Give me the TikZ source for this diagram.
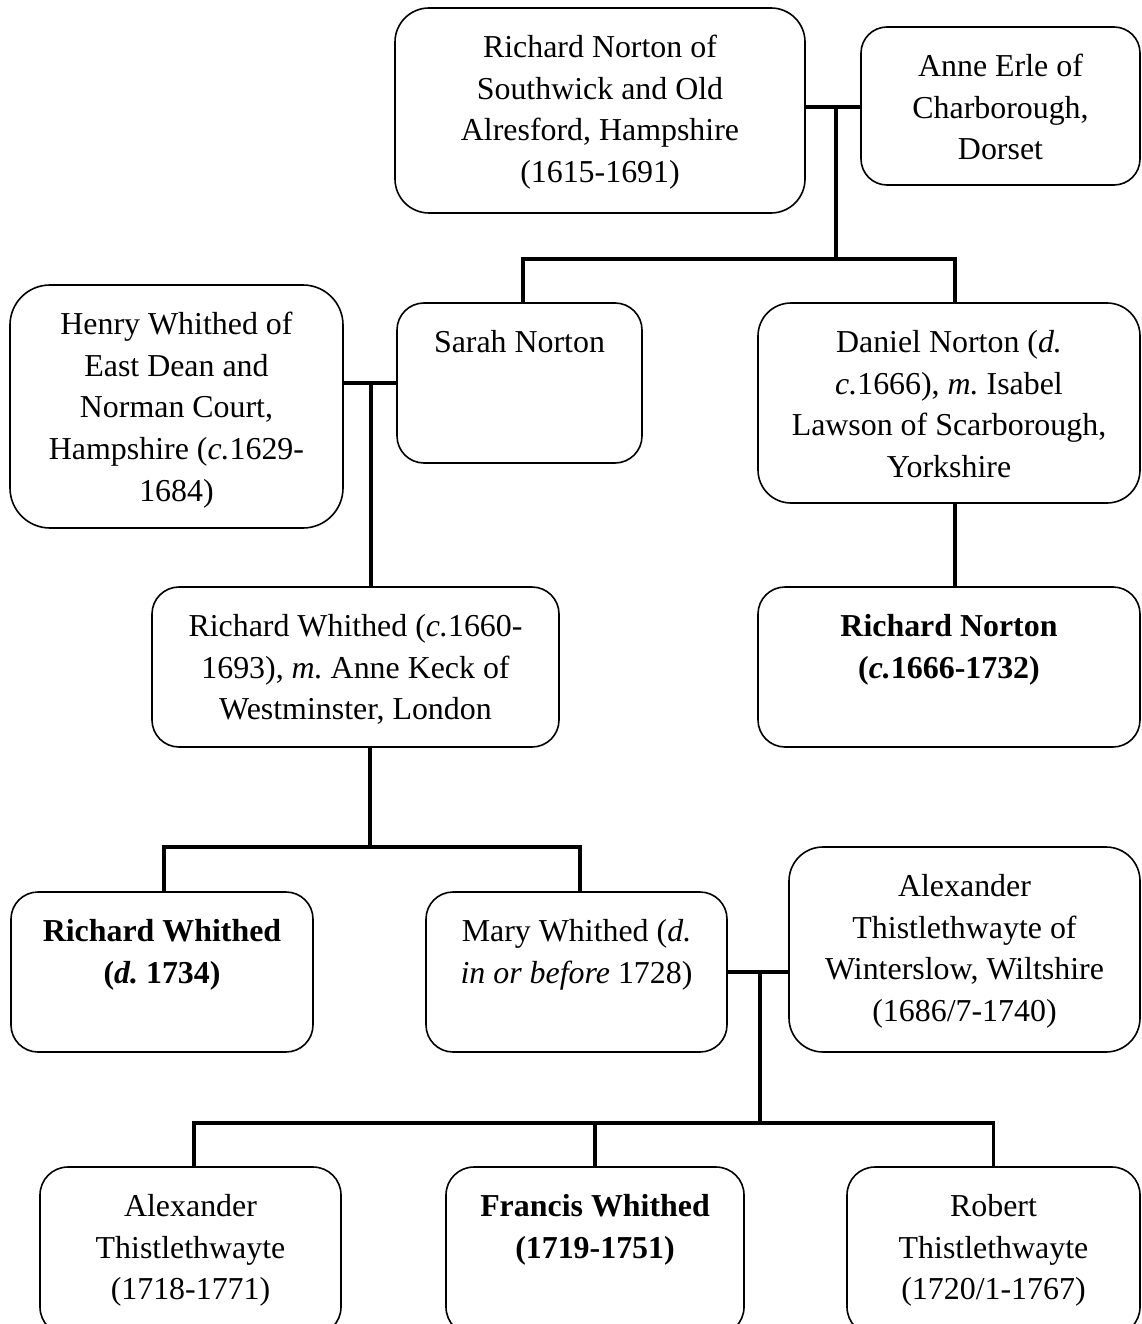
\documentclass[tikz,border=0pt]{standalone}
\usepackage{fontspec}
\setmainfont{Liberation Serif}
\frenchspacing
\tikzset{
 pbox/.style={draw, line width=1.6pt, inner sep=0pt, fill=white},
 ptxt/.style={align=center, inner sep=0pt, anchor=north, font=\fontsize{31.9}{41.7}\selectfont\frenchspacing},
 conn/.style={line width=3.3pt},
 marr/.style={line width=3.8pt},
}
% name, x1, x2, y1, y2, radius, text
\newcommand\pb[7]{%
 \node[pbox, minimum width={(#3-#2)*1pt}, minimum height={(#5-#4)*1pt}, rounded corners=#6pt] (#1) at ({(#2+#3)/2},{(#4+#5)/2}) {};
 \node[ptxt] (#1t) at ([yshift=-20.8pt]#1.north) {\strut #7};
}
\begin{document}
\begin{tikzpicture}[x=1pt,y=-1pt]
\useasboundingbox (0,0) rectangle (1142,1324);
\clip (0,0) rectangle (1142,1324);
\fill[white] (0,0) rectangle (1142,1324);

\pb{A}{395}{805}{8}{213}{34}{Richard Norton of\\Southwick and Old\\Alresford, Hampshire\\(1615-1691)}
\pb{B}{861}{1140}{27}{185}{26}{Anne Erle of\\Charborough,\\Dorset}
\pb{H}{10}{343}{285}{528}{40}{Henry Whithed of\\East Dean and\\Norman Court,\\Hampshire (\textit{c.}1629-\\1684)}
\pb{S}{397}{642}{303}{463}{27}{Sarah Norton}
\pb{D}{758}{1140}{303}{503}{33}{Daniel Norton (\textit{d.}\\\textit{c.}1666), \textit{m.} Isabel\\Lawson of Scarborough,\\Yorkshire}
\pb{RN}{758}{1140}{587}{747}{27}{\textbf{Richard Norton}\\\textbf{(\textit{c.}1666-1732)}}
\pb{RW}{152}{559}{587}{747}{27}{Richard Whithed (\textit{c.}1660-\\1693), \textit{m.} Anne Keck of\\Westminster, London}
\pb{RWb}{11}{313}{892}{1052}{27}{\textbf{Richard Whithed}\\\textbf{(\textit{d.} 1734)}}
\pb{M}{426}{727}{892}{1052}{27}{Mary Whithed (\textit{d.}\\\textit{in or before} 1728)}
\pb{AT}{789}{1140}{847}{1052}{34}{Alexander\\Thistlethwayte of\\Winterslow, Wiltshire\\(1686/7-1740)}
\pb{ATb}{40}{341}{1167}{1335}{28}{Alexander\\Thistlethwayte\\(1718-1771)}
\pb{F}{446}{744}{1167}{1335}{28}{\textbf{Francis Whithed}\\\textbf{(1719-1751)}}
\pb{R}{847}{1140}{1167}{1335}{28}{Robert\\Thistlethwayte\\(1720/1-1767)}

% Norton / Erle
\coordinate (mAB) at (836,107);
\coordinate (sAB) at (836,259);
\draw[marr] (A.east |- mAB) -- (B.west |- mAB);
\draw[conn] (mAB) -- (sAB);
\draw[conn] ([xshift=3.5pt]S.north) |- (sAB) -| ([xshift=6pt]D.north);
\draw[conn] ([xshift=6pt]D.south) -- ([xshift=6pt]RN.north);

% Whithed / Norton
\coordinate (mHS) at (371,383);
\draw[marr] (H.east |- mHS) -- (S.west |- mHS);
\draw[conn] (mHS) -- (mHS |- RW.north);
\coordinate (sRW) at (370,847);
\draw[conn] (RW.south -| sRW) -- (sRW);
\draw[conn] ([xshift=2pt]RWb.north) |- (sRW) -| ([xshift=3.5pt]M.north);

% Whithed / Thistlethwayte
\coordinate (mMA) at (760,972);
\coordinate (sMA) at (760,1123);
\draw[marr] (M.east |- mMA) -- (AT.west |- mMA);
\draw[conn] (mMA) -- (sMA);
\draw[conn] ([xshift=3.5pt]ATb.north) |- (sMA) -| (R.north);
\draw[conn] (F.north) -- (F.north |- sMA);
\end{tikzpicture}
\end{document}
